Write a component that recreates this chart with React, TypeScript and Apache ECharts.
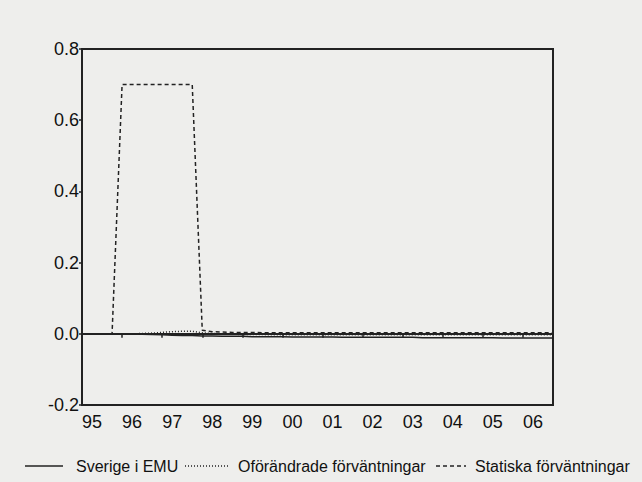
import React, { useEffect, useRef } from "react";
import * as echarts from "echarts";

const quarters: string[] = [];
for (let y = 1995; y <= 2006; y++) {
  for (let q = 1; q <= 4; q++) quarters.push(`${y}Q${q}`);
}

const seriesNames = ["Sverige i EMU", "Oförändrade förväntningar", "Statiska förväntningar"];

const sverigeEMU = [
  0, 0, 0, 0, 0, 0, -0.001, -0.002,
  -0.003, -0.004, -0.005, -0.005, -0.006, -0.006, -0.007, -0.007,
  -0.007, -0.008, -0.008, -0.008, -0.008, -0.009, -0.009, -0.009,
  -0.009, -0.009, -0.01, -0.01, -0.01, -0.01, -0.01, -0.01,
  -0.01, -0.01, -0.011, -0.011, -0.011, -0.011, -0.011, -0.011,
  -0.011, -0.011, -0.012, -0.012, -0.012, -0.012, -0.012, -0.012,
];

const oforandrade = [
  0, 0, 0, 0, 0, 0, 0.001, 0.002,
  0.004, 0.006, 0.007, 0.007, 0.003, 0.001, 0, -0.001,
  -0.002, -0.002, -0.002, -0.003, -0.003, -0.003, -0.003, -0.003,
  -0.003, -0.003, -0.003, -0.003, -0.003, -0.003, -0.003, -0.003,
  -0.003, -0.003, -0.003, -0.003, -0.003, -0.003, -0.003, -0.003,
  -0.003, -0.003, -0.003, -0.003, -0.003, -0.003, -0.003, -0.003,
];

const statiska = [
  0, 0, 0, 0, 0.7, 0.7, 0.7, 0.7,
  0.7, 0.7, 0.7, 0.7, 0.01, 0.006, 0.005, 0.004,
  0.004, 0.004, 0.003, 0.003, 0.003, 0.003, 0.003, 0.003,
  0.003, 0.003, 0.003, 0.003, 0.003, 0.003, 0.003, 0.003,
  0.003, 0.003, 0.003, 0.003, 0.003, 0.003, 0.003, 0.003,
  0.003, 0.003, 0.003, 0.003, 0.003, 0.003, 0.003, 0.003,
];

const yMin = -0.2;
const yMax = 0.8;
const yStep = 0.2;

const INK = "#222222";
const TEXT = "#111111";
const FONT = "'Liberation Sans', Arial, sans-serif";

export default function App() {
  const ref = useRef<HTMLDivElement>(null);
  useEffect(() => {
    if (!ref.current) return;
    const chart = echarts.init(ref.current, undefined, { renderer: "svg" });
    const isQ1 = (i: number) => i % 4 === 0;
    const legendY = 466;
    const legendFont = `16px ${FONT}`;
    chart.setOption({
      animation: false,
      backgroundColor: "#eeeeec",
      textStyle: { fontFamily: FONT },
      grid: {
        left: 82,
        top: 49,
        right: 89,
        bottom: 77,
        show: true,
        borderColor: INK,
        borderWidth: 2,
        backgroundColor: "transparent",
      },
      xAxis: {
        type: "category",
        data: quarters,
        boundaryGap: false,
        axisLine: { show: true, lineStyle: { color: INK, width: 2 } },
        axisTick: {
          show: true,
          inside: false,
          length: 4,
          interval: (i: number) => isQ1(i),
          lineStyle: { color: INK, width: 1.5 },
        },
        axisLabel: {
          show: true,
          interval: (i: number) => isQ1(i),
          formatter: (v: string) => v.slice(2, 4),
          align: "left",
          margin: 8,
          fontSize: 18,
          color: TEXT,
          fontFamily: FONT,
        },
        splitLine: { show: false },
      },
      yAxis: {
        type: "value",
        min: yMin,
        max: yMax,
        interval: yStep,
        axisLine: { show: true, lineStyle: { color: INK, width: 2 } },
        axisTick: { show: true, length: 3, lineStyle: { color: INK, width: 1.5 } },
        axisLabel: {
          formatter: (v: number) => v.toFixed(1),
          margin: 3,
          fontSize: 18,
          color: TEXT,
          fontFamily: FONT,
        },
        splitLine: { show: false },
      },
      series: [
        {
          name: seriesNames[0],
          type: "line",
          data: sverigeEMU,
          symbol: "none",
          lineStyle: { color: INK, width: 1.5, type: "solid" },
        },
        {
          name: seriesNames[1],
          type: "line",
          data: oforandrade,
          symbol: "none",
          lineStyle: { color: INK, width: 1.5, type: [1, 2] },
        },
        {
          name: seriesNames[2],
          type: "line",
          data: statiska,
          symbol: "none",
          lineStyle: { color: INK, width: 1.5, type: [4, 3] },
        },
      ],
      graphic: [
        { type: "line", shape: { x1: 25, y1: legendY, x2: 63, y2: legendY }, style: { stroke: INK, lineWidth: 1.5 } },
        { type: "text", x: 76, y: legendY, style: { text: seriesNames[0], fill: TEXT, font: legendFont, textVerticalAlign: "middle" } },
        { type: "line", shape: { x1: 185, y1: legendY, x2: 230, y2: legendY }, style: { stroke: INK, lineWidth: 1.5, lineDash: [1, 2] } },
        { type: "text", x: 238, y: legendY, style: { text: seriesNames[1], fill: TEXT, font: legendFont, textVerticalAlign: "middle" } },
        { type: "line", shape: { x1: 436, y1: legendY, x2: 466, y2: legendY }, style: { stroke: INK, lineWidth: 1.5, lineDash: [4, 3] } },
        { type: "text", x: 475, y: legendY, style: { text: seriesNames[2], fill: TEXT, font: legendFont, textVerticalAlign: "middle" } },
      ],
    });
    return () => chart.dispose();
  }, []);
  return (
    <div
      ref={ref}
      style={{ position: "fixed", left: 0, top: 0, width: 642, height: 482 }}
    />
  );
}
